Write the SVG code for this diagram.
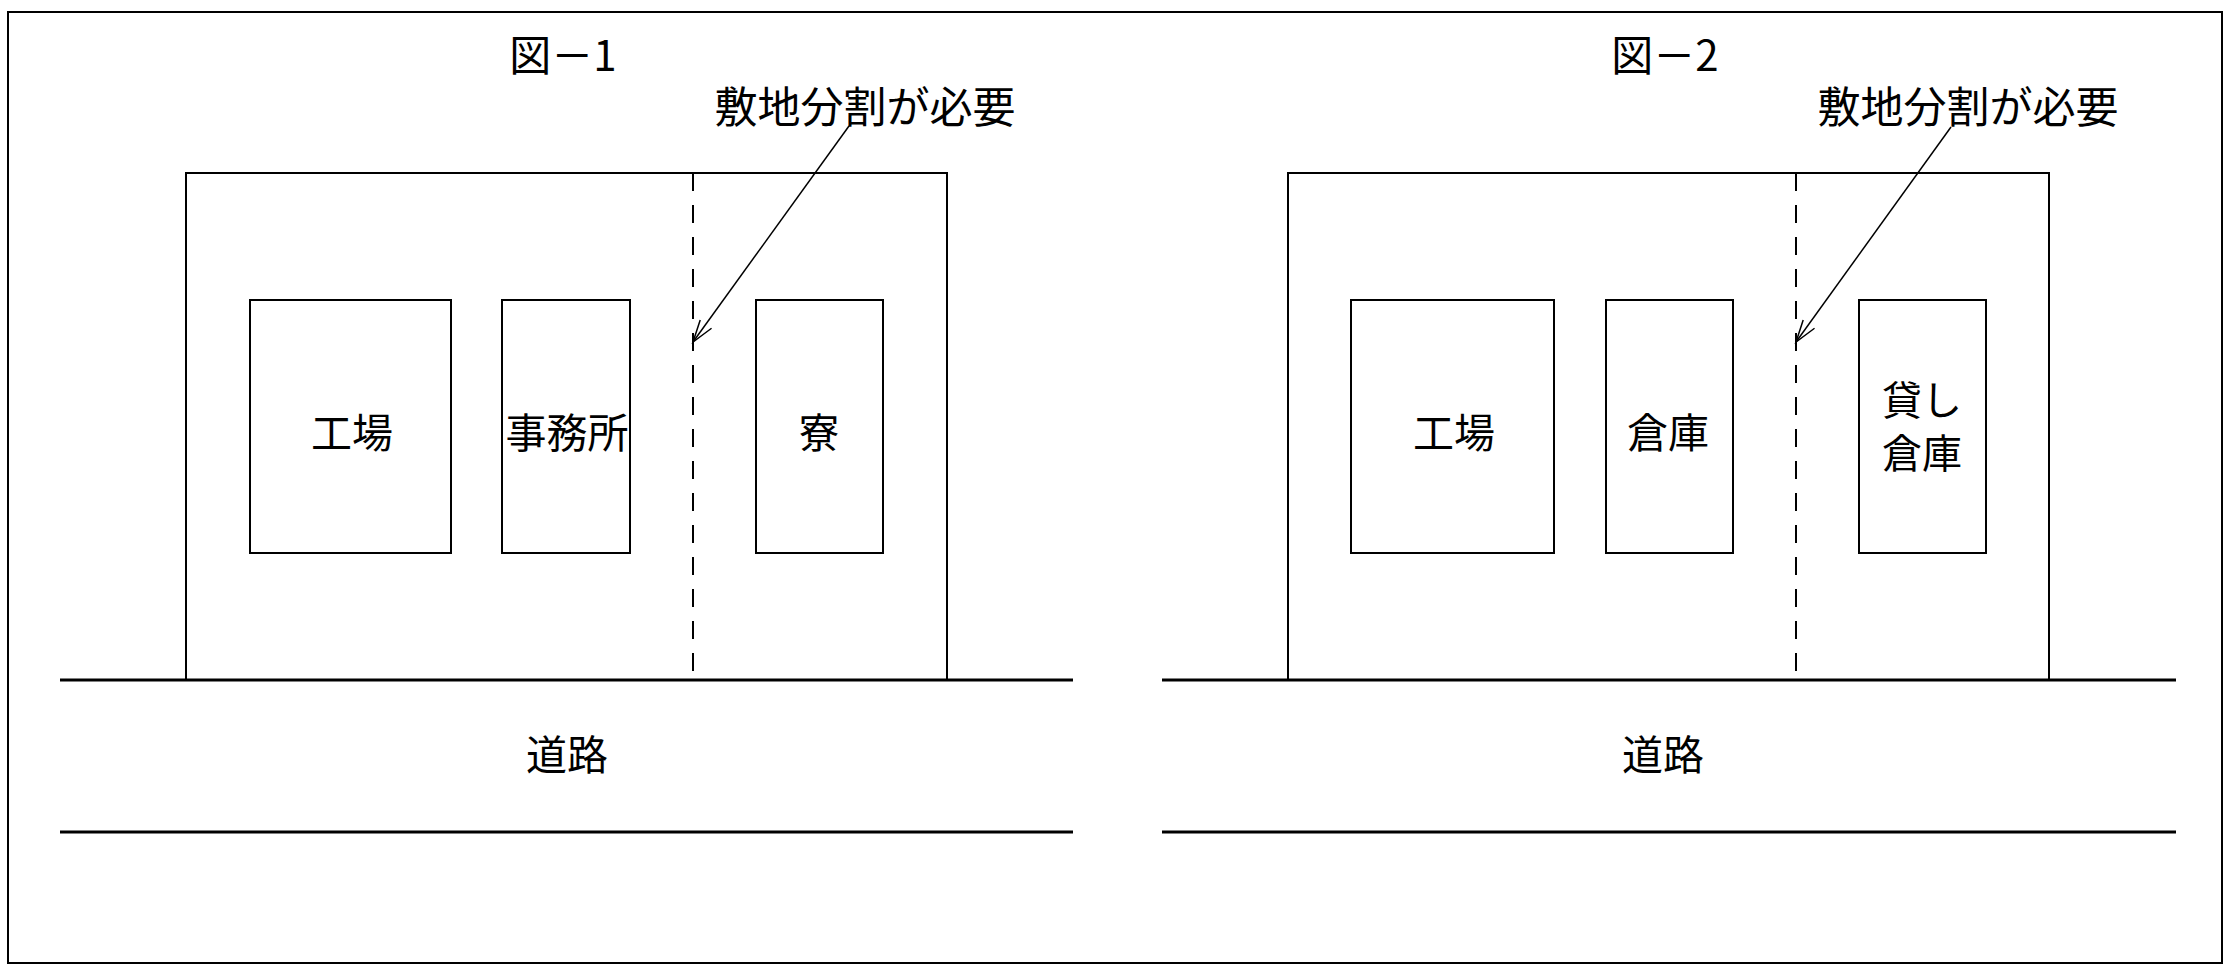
<svg xmlns="http://www.w3.org/2000/svg" width="2236" height="972" viewBox="0 0 2236 972">
<style>
.ln{stroke:#000;stroke-width:2;fill:none}
.rd{stroke:#000;stroke-width:3;fill:none}
.ds{stroke:#000;stroke-width:2;fill:none;stroke-dasharray:18 14}
.bx{stroke:#000;stroke-width:2;fill:#fff}
.ar{stroke:#000;stroke-width:1.5;fill:none}
text{font-family:"Noto Sans CJK JP","Noto Sans CJK SC",sans-serif;fill:#000;text-anchor:middle;dominant-baseline:central}
.t1{font-size:42px}
.t2{font-size:43px}
.t3{font-size:41px}
.t4{font-size:40px}
</style>
<defs>
<marker id="ah" markerUnits="userSpaceOnUse" markerWidth="30" markerHeight="20" viewBox="-24 -10 28 20" refX="0" refY="0" orient="auto">
<path d="M-22,-7 L0,0 L-22,7" fill="none" stroke="#000" stroke-width="1.5"/>
</marker>
</defs>
<rect x="0" y="0" width="2236" height="972" fill="#fff"/>
<rect id="frame" x="8" y="12" width="2214" height="951" class="ln"/>

<g id="fig1">
<text id="title1" class="t1" x="563" y="52">図－1</text>
<g id="site1"><path class="ln" d="M186,680 V173 H947 V680"/></g>
<g id="road1">
<line class="rd" x1="60" y1="680" x2="1073" y2="680"/>
<line class="rd" x1="60" y1="832" x2="1073" y2="832"/>
<text class="t3" x="567" y="752">道路</text>
</g>
<g id="b1-koujou"><rect class="bx" x="250" y="300" width="201" height="253"/><text class="t3" x="352" y="430">工場</text></g>
<g id="b1-jimusho"><rect class="bx" x="502" y="300" width="128" height="253"/><text class="t3" x="567" y="430">事務所</text></g>
<g id="b1-ryo"><rect class="bx" x="756" y="300" width="127" height="253"/><text class="t3" x="819" y="430">寮</text></g>
<text id="note1" class="t2" x="865" y="104">敷地分割が必要</text>
</g>

<g id="fig2">
<text id="title2" class="t1" x="1665" y="52">図－2</text>
<g id="site2"><path class="ln" d="M1288,680 V173 H2049 V680"/></g>
<g id="road2">
<line class="rd" x1="1162" y1="680" x2="2176" y2="680"/>
<line class="rd" x1="1162" y1="832" x2="2176" y2="832"/>
<text class="t3" x="1663" y="752">道路</text>
</g>
<g id="b2-koujou"><rect class="bx" x="1351" y="300" width="203" height="253"/><text class="t3" x="1454" y="430">工場</text></g>
<g id="b2-souko"><rect class="bx" x="1606" y="300" width="127" height="253"/><text class="t3" x="1668" y="430">倉庫</text></g>
<g id="b2-kashisouko"><rect class="bx" x="1859" y="300" width="127" height="253"/><text class="t4" x="1922" y="398">貸し</text><text class="t4" x="1922" y="451">倉庫</text></g>
<text id="note2" class="t2" x="1968" y="104">敷地分割が必要</text>
</g>

<g id="connectors">
<line class="ds" x1="693" y1="173" x2="693" y2="680"/>
<line class="ds" x1="1796" y1="173" x2="1796" y2="680"/>
<line class="ar" x1="849" y1="126" x2="693" y2="342" marker-end="url(#ah)"/>
<line class="ar" x1="1951" y1="127" x2="1796" y2="342" marker-end="url(#ah)"/>
</g>
</svg>
